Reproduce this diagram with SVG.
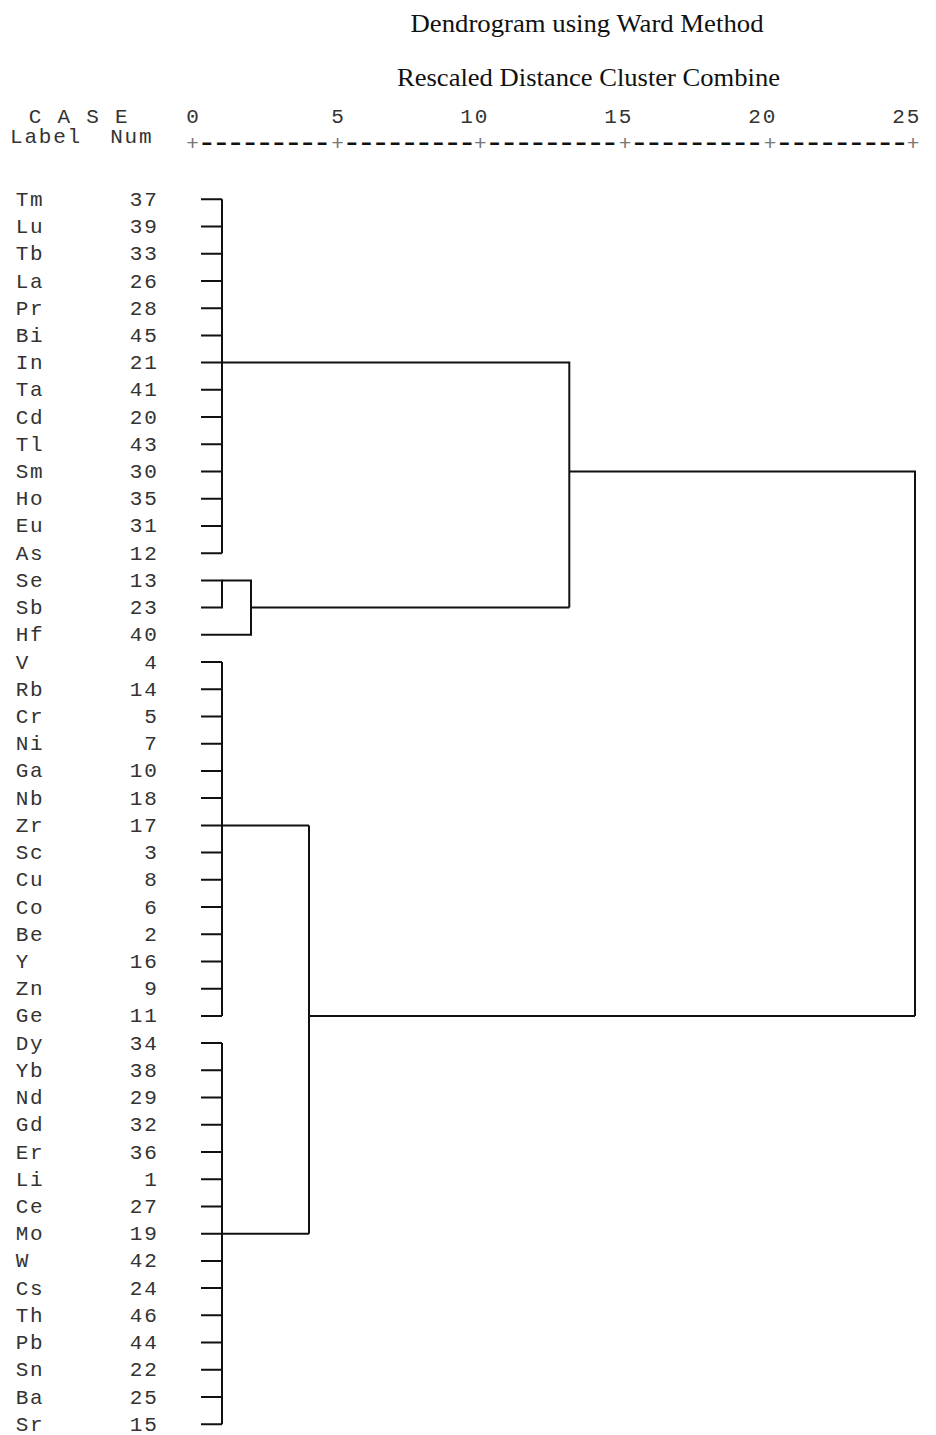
<svg xmlns="http://www.w3.org/2000/svg" width="936" height="1435" viewBox="0 0 936 1435">
<style>
.title{font-family:"Liberation Serif","Times New Roman",serif;font-size:26px;fill:#111;}
.mono{font-family:"Liberation Mono","Courier New",monospace;font-size:21px;letter-spacing:1.8px;fill:#333;}
.plus{font-family:"Liberation Mono","Courier New",monospace;font-size:21px;fill:#777;}
.dash{font-family:"Liberation Mono","Courier New",monospace;font-size:32px;letter-spacing:-4.8px;fill:#111;}
.ln{fill:none;stroke:#111;stroke-width:2;}
</style>
<rect width="936" height="1435" fill="#fff"/>
<g id="titles">
<text class="title" x="587" y="31.7" text-anchor="middle" textLength="353" lengthAdjust="spacingAndGlyphs">Dendrogram using Ward Method</text>
<text class="title" x="588.5" y="86" text-anchor="middle" textLength="383" lengthAdjust="spacingAndGlyphs">Rescaled Distance Cluster Combine</text>
</g>
<g id="header">
<text class="mono" x="28.7" y="122.5">C A S E</text>
<text class="mono" x="10" y="143">Label</text>
<text class="mono" x="110.2" y="143">Num</text>
<text class="mono" x="186.2" y="122.5">0</text>
<text class="mono" x="331.2" y="122.5">5</text>
<text class="mono" x="460.3" y="122.5">10</text>
<text class="mono" x="604.3" y="122.5">15</text>
<text class="mono" x="748.3" y="122.5">20</text>
<text class="mono" x="892.3" y="122.5">25</text>
</g>
<g id="axis">
<text class="plus" x="186.2" y="149.5">+</text>
<text class="dash" x="197.3" y="152">---------</text>
<text class="plus" x="331.2" y="149.5">+</text>
<text class="dash" x="342.3" y="152">---------</text>
<text class="plus" x="474" y="149.5">+</text>
<text class="dash" x="485.1" y="152">---------</text>
<text class="plus" x="618.7" y="149.5">+</text>
<text class="dash" x="629.8" y="152">---------</text>
<text class="plus" x="763.7" y="149.5">+</text>
<text class="dash" x="774.8" y="152">---------</text>
<text class="plus" x="906.7" y="149.5">+</text>
</g>
<g id="cases">
<g id="case-Tm"><text class="mono" x="15.7" y="205.8">Tm</text><text class="mono" x="129.8" y="205.8">37</text></g>
<g id="case-Lu"><text class="mono" x="15.7" y="233.0">Lu</text><text class="mono" x="129.8" y="233.0">39</text></g>
<g id="case-Tb"><text class="mono" x="15.7" y="260.2">Tb</text><text class="mono" x="129.8" y="260.2">33</text></g>
<g id="case-La"><text class="mono" x="15.7" y="287.5">La</text><text class="mono" x="129.8" y="287.5">26</text></g>
<g id="case-Pr"><text class="mono" x="15.7" y="314.7">Pr</text><text class="mono" x="129.8" y="314.7">28</text></g>
<g id="case-Bi"><text class="mono" x="15.7" y="341.9">Bi</text><text class="mono" x="129.8" y="341.9">45</text></g>
<g id="case-In"><text class="mono" x="15.7" y="369.1">In</text><text class="mono" x="129.8" y="369.1">21</text></g>
<g id="case-Ta"><text class="mono" x="15.7" y="396.3">Ta</text><text class="mono" x="129.8" y="396.3">41</text></g>
<g id="case-Cd"><text class="mono" x="15.7" y="423.6">Cd</text><text class="mono" x="129.8" y="423.6">20</text></g>
<g id="case-Tl"><text class="mono" x="15.7" y="450.8">Tl</text><text class="mono" x="129.8" y="450.8">43</text></g>
<g id="case-Sm"><text class="mono" x="15.7" y="478.0">Sm</text><text class="mono" x="129.8" y="478.0">30</text></g>
<g id="case-Ho"><text class="mono" x="15.7" y="505.2">Ho</text><text class="mono" x="129.8" y="505.2">35</text></g>
<g id="case-Eu"><text class="mono" x="15.7" y="532.4">Eu</text><text class="mono" x="129.8" y="532.4">31</text></g>
<g id="case-As"><text class="mono" x="15.7" y="559.7">As</text><text class="mono" x="129.8" y="559.7">12</text></g>
<g id="case-Se"><text class="mono" x="15.7" y="586.9">Se</text><text class="mono" x="129.8" y="586.9">13</text></g>
<g id="case-Sb"><text class="mono" x="15.7" y="614.1">Sb</text><text class="mono" x="129.8" y="614.1">23</text></g>
<g id="case-Hf"><text class="mono" x="15.7" y="641.3">Hf</text><text class="mono" x="129.8" y="641.3">40</text></g>
<g id="case-V"><text class="mono" x="15.7" y="668.5">V</text><text class="mono" x="144.2" y="668.5">4</text></g>
<g id="case-Rb"><text class="mono" x="15.7" y="695.8">Rb</text><text class="mono" x="129.8" y="695.8">14</text></g>
<g id="case-Cr"><text class="mono" x="15.7" y="723.0">Cr</text><text class="mono" x="144.2" y="723.0">5</text></g>
<g id="case-Ni"><text class="mono" x="15.7" y="750.2">Ni</text><text class="mono" x="144.2" y="750.2">7</text></g>
<g id="case-Ga"><text class="mono" x="15.7" y="777.4">Ga</text><text class="mono" x="129.8" y="777.4">10</text></g>
<g id="case-Nb"><text class="mono" x="15.7" y="804.6">Nb</text><text class="mono" x="129.8" y="804.6">18</text></g>
<g id="case-Zr"><text class="mono" x="15.7" y="831.9">Zr</text><text class="mono" x="129.8" y="831.9">17</text></g>
<g id="case-Sc"><text class="mono" x="15.7" y="859.1">Sc</text><text class="mono" x="144.2" y="859.1">3</text></g>
<g id="case-Cu"><text class="mono" x="15.7" y="886.3">Cu</text><text class="mono" x="144.2" y="886.3">8</text></g>
<g id="case-Co"><text class="mono" x="15.7" y="913.5">Co</text><text class="mono" x="144.2" y="913.5">6</text></g>
<g id="case-Be"><text class="mono" x="15.7" y="940.7">Be</text><text class="mono" x="144.2" y="940.7">2</text></g>
<g id="case-Y"><text class="mono" x="15.7" y="968.0">Y</text><text class="mono" x="129.8" y="968.0">16</text></g>
<g id="case-Zn"><text class="mono" x="15.7" y="995.2">Zn</text><text class="mono" x="144.2" y="995.2">9</text></g>
<g id="case-Ge"><text class="mono" x="15.7" y="1022.4">Ge</text><text class="mono" x="129.8" y="1022.4">11</text></g>
<g id="case-Dy"><text class="mono" x="15.7" y="1049.6">Dy</text><text class="mono" x="129.8" y="1049.6">34</text></g>
<g id="case-Yb"><text class="mono" x="15.7" y="1076.8">Yb</text><text class="mono" x="129.8" y="1076.8">38</text></g>
<g id="case-Nd"><text class="mono" x="15.7" y="1104.1">Nd</text><text class="mono" x="129.8" y="1104.1">29</text></g>
<g id="case-Gd"><text class="mono" x="15.7" y="1131.3">Gd</text><text class="mono" x="129.8" y="1131.3">32</text></g>
<g id="case-Er"><text class="mono" x="15.7" y="1158.5">Er</text><text class="mono" x="129.8" y="1158.5">36</text></g>
<g id="case-Li"><text class="mono" x="15.7" y="1185.7">Li</text><text class="mono" x="144.2" y="1185.7">1</text></g>
<g id="case-Ce"><text class="mono" x="15.7" y="1212.9">Ce</text><text class="mono" x="129.8" y="1212.9">27</text></g>
<g id="case-Mo"><text class="mono" x="15.7" y="1240.2">Mo</text><text class="mono" x="129.8" y="1240.2">19</text></g>
<g id="case-W"><text class="mono" x="15.7" y="1267.4">W</text><text class="mono" x="129.8" y="1267.4">42</text></g>
<g id="case-Cs"><text class="mono" x="15.7" y="1294.6">Cs</text><text class="mono" x="129.8" y="1294.6">24</text></g>
<g id="case-Th"><text class="mono" x="15.7" y="1321.8">Th</text><text class="mono" x="129.8" y="1321.8">46</text></g>
<g id="case-Pb"><text class="mono" x="15.7" y="1349.0">Pb</text><text class="mono" x="129.8" y="1349.0">44</text></g>
<g id="case-Sn"><text class="mono" x="15.7" y="1376.3">Sn</text><text class="mono" x="129.8" y="1376.3">22</text></g>
<g id="case-Ba"><text class="mono" x="15.7" y="1403.5">Ba</text><text class="mono" x="129.8" y="1403.5">25</text></g>
<g id="case-Sr"><text class="mono" x="15.7" y="1430.7">Sr</text><text class="mono" x="129.8" y="1430.7">15</text></g>
</g>
<g id="connectors" class="ln">
<path d="M201 199.3H222M201 226.5H222M201 253.7H222M201 281H222M201 308.2H222M201 335.4H222M201 362.6H222M201 389.8H222M201 417.1H222M201 444.3H222M201 471.5H222M201 498.7H222M201 525.9H222M201 553.2H222"/>
<path d="M222 199.3V553.2"/>
<path d="M201 580.4H222V607.6H201"/>
<path d="M222 580.4H251V634.8H201"/>
<path d="M251 607.6H569.3"/>
<path d="M222 362.6H569.3V607.6"/>
<path d="M569.3 471.5H915V1015.9"/>
<path d="M201 662H222M201 689.3H222M201 716.5H222M201 743.7H222M201 770.9H222M201 798.1H222M201 825.4H222M201 852.6H222M201 879.8H222M201 907H222M201 934.2H222M201 961.5H222M201 988.7H222M201 1015.9H222"/>
<path d="M222 662V1015.9"/>
<path d="M222 825.4H309"/>
<path d="M201 1043.1H222M201 1070.3H222M201 1097.6H222M201 1124.8H222M201 1152H222M201 1179.2H222M201 1206.4H222M201 1233.7H222M201 1260.9H222M201 1288.1H222M201 1315.3H222M201 1342.5H222M201 1369.8H222M201 1397H222M201 1424.2H222"/>
<path d="M222 1043.1V1424.2"/>
<path d="M222 1233.7H309"/>
<path d="M309 825.4V1233.7"/>
<path d="M309 1015.9H915"/>
</g>
</svg>
